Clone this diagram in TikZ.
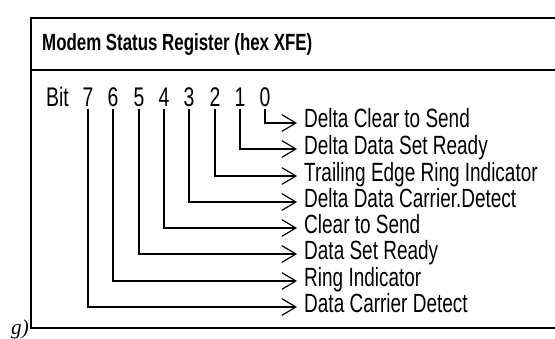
\documentclass[tikz,border=0pt]{standalone}
\usepackage{fontspec}
\setmainfont{Liberation Sans}[FakeStretch=0.72]
\newfontfamily\figfont{Liberation Serif}
\usetikzlibrary{arrows.meta}

\tikzset{
  regline/.style={line width=1pt},
  bitlbl/.style={font=\fontsize{23}{26}\selectfont, inner sep=0pt},
  flaglbl/.style={font=\fontsize{22.5}{25}\selectfont, anchor=base west, inner sep=0pt},
  flagarrow/.style={line width=1pt, shorten <=2pt,
    -{Straight Barb[length=0.42cm,width=0.5cm,line width=1pt]}},
}

\begin{document}
\begin{tikzpicture}[x=0.03cm,y=-0.03cm]
\useasboundingbox (0,0) rectangle (555,339);
% register box, open at the right
\draw[regline] (555,18) -- (31,18) -- (31,328) -- (555,328);
\draw[regline] (31,70) -- (555,70);
\node[anchor=west, inner sep=0pt, font=\bfseries\fontsize{20}{23}\selectfont] (title) at (42,44) {Modem Status Register (hex XFE)};
\node[anchor=base west, inner sep=0pt, font=\figfont\itshape\fontsize{18}{20}\selectfont] (fig) at (11,334) {g)};

% bit numbers
\node[bitlbl, anchor=west] (bit) at (46,97) {Bit};
\node[bitlbl] (b7) at (88,97) {7};
\node[bitlbl] (b6) at (113,97) {6};
\node[bitlbl] (b5) at (139,97) {5};
\node[bitlbl] (b4) at (164,97) {4};
\node[bitlbl] (b3) at (189,97) {3};
\node[bitlbl] (b2) at (215,97) {2};
\node[bitlbl] (b1) at (240,97) {1};
\node[bitlbl] (b0) at (265,97) {0};

% arrow ends
\coordinate (e0) at (297,123);
\coordinate (e1) at (297,149);
\coordinate (e2) at (297,176);
\coordinate (e3) at (297,202);
\coordinate (e4) at (297,228);
\coordinate (e5) at (297,254);
\coordinate (e6) at (297,281);
\coordinate (e7) at (297,307);

\draw[flagarrow] (b0.south) |- (e0);
\draw[flagarrow] (b1.south) |- (e1);
\draw[flagarrow] (b2.south) |- (e2);
\draw[flagarrow] (b3.south) |- (e3);
\draw[flagarrow] (b4.south) |- (e4);
\draw[flagarrow] (b5.south) |- (e5);
\draw[flagarrow] (b6.south) |- (e6);
\draw[flagarrow] (b7.south) |- (e7);

% flag names
\node[flaglbl] (f0) at ([shift={(7,5)}]e0) {Delta Clear to Send};
\node[flaglbl] (f1) at ([shift={(7,5)}]e1) {Delta Data Set Ready};
\node[flaglbl] (f2) at ([shift={(7,5)}]e2) {Trailing Edge Ring Indicator};
\node[flaglbl] (f3) at ([shift={(7,5)}]e3) {Delta Data Carrier.Detect};
\node[flaglbl] (f4) at ([shift={(7,5)}]e4) {Clear to Send};
\node[flaglbl] (f5) at ([shift={(7,5)}]e5) {Data Set Ready};
\node[flaglbl] (f6) at ([shift={(7,5)}]e6) {Ring Indicator};
\node[flaglbl] (f7) at ([shift={(7,5)}]e7) {Data Carrier Detect};
\end{tikzpicture}
\end{document}
